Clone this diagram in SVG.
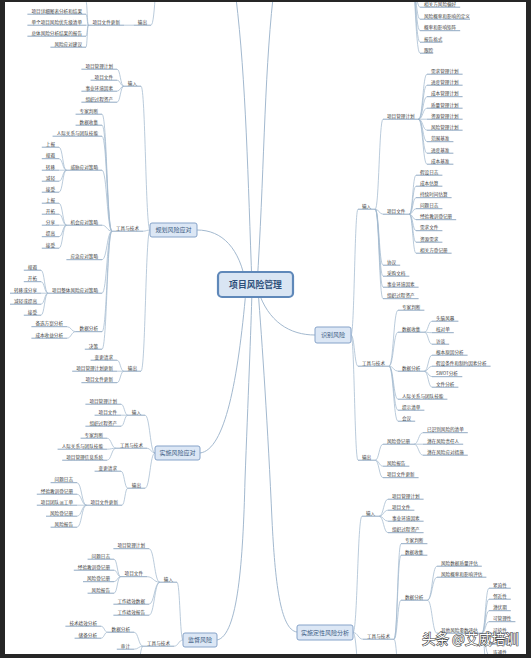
<svg xmlns="http://www.w3.org/2000/svg" width="531" height="658" viewBox="0 0 531 658">
<style>
.t{font-family:"Noto Sans CJK SC","Noto Sans",sans-serif;font-size:4.6px;fill:#404040}
.e{text-anchor:end}
.u{fill:none;stroke:#7392b2;stroke-width:.8}
.c{fill:none;stroke:#a3b9cf;stroke-width:.75}
.m{fill:none;stroke:#a3b9cf;stroke-width:1}
.b{fill:#dce7f5;stroke:#86a3c9;stroke-width:1}
.bt{font-family:"Noto Sans CJK SC","Noto Sans",sans-serif;font-size:6px;fill:#3b5b82;text-anchor:middle}
.ctr{fill:#d9e5f3;stroke:#5f88b9;stroke-width:2.2}
.ct{font-family:"Noto Sans CJK SC","Noto Sans",sans-serif;font-size:8.8px;font-weight:700;fill:#2d4f7a;text-anchor:middle}
.wm{font-family:"Noto Sans CJK SC",sans-serif;font-size:13.5px;fill:#fff;stroke:#3a3a3a;stroke-width:1.1;paint-order:stroke}
</style>
<rect width="531" height="658" fill="#fff"/>
<g id="connectors">
<path class="m" d="M252 285C248 180 246 80 236 -2"/>
<path class="m" d="M257 285C264 180 264 80 273 -2"/>
<path class="m" d="M197 230C222 230 240 248 246 285"/>
<path class="m" d="M258 290C268 322 290 335 315 335"/>
<path class="m" d="M200 453C225 450 238 380 246 290"/>
<path class="m" d="M217 640C238 636 243 560 245 480C248 400 251 330 252 290"/>
<path class="m" d="M297 632C280 630 275 580 272 520C268 430 262 340 258 290"/>
<path class="c" d="M351 335C354.5 335 354.5 209.2 358 209.2M351 335C354.5 335 354.5 366.2 358 366.2M351 335C354.5 335 354.5 460.2 358 460.2"/>
<path class="c" d="M375.2 209.2C379.1 209.2 379.1 119.2 383 119.2M375.2 209.2C379.1 209.2 379.1 214.2 383 214.2M375.2 209.2C379.1 209.2 379.1 265.2 383 265.2M375.2 209.2C379.1 209.2 379.1 276.2 383 276.2M375.2 209.2C379.1 209.2 379.1 287.2 383 287.2M375.2 209.2C379.1 209.2 379.1 298.7 383 298.7"/>
<path class="c" d="M418.6 119.2C422.8 119.2 422.8 74.2 427 74.2M418.6 119.2C422.8 119.2 422.8 85.2 427 85.2M418.6 119.2C422.8 119.2 422.8 96.7 427 96.7M418.6 119.2C422.8 119.2 422.8 108.2 427 108.2M418.6 119.2H427M418.6 119.2C422.8 119.2 422.8 130.2 427 130.2M418.6 119.2C422.8 119.2 422.8 141.7 427 141.7M418.6 119.2C422.8 119.2 422.8 153.2 427 153.2M418.6 119.2C422.8 119.2 422.8 164.2 427 164.2"/>
<path class="c" d="M409.4 214.2C412.7 214.2 412.7 175.2 416 175.2M409.4 214.2C412.7 214.2 412.7 186.2 416 186.2M409.4 214.2C412.7 214.2 412.7 197.7 416 197.7M409.4 214.2C412.7 214.2 412.7 208.7 416 208.7M409.4 214.2C412.7 214.2 412.7 219.7 416 219.7M409.4 214.2C412.7 214.2 412.7 230.7 416 230.7M409.4 214.2C412.7 214.2 412.7 242.2 416 242.2M409.4 214.2C412.7 214.2 412.7 253.2 416 253.2"/>
<path class="c" d="M389 366.2C393.5 366.2 393.5 310.2 398 310.2M389 366.2C393.5 366.2 393.5 332.2 398 332.2M389 366.2C393.5 366.2 393.5 371.2 398 371.2M389 366.2C393.5 366.2 393.5 399.2 398 399.2M389 366.2C393.5 366.2 393.5 410.2 398 410.2M389 366.2C393.5 366.2 393.5 421.2 398 421.2"/>
<path class="c" d="M424.4 332.2C428.2 332.2 428.2 321.2 432 321.2M424.4 332.2C428.2 332.2 428.2 332.7 432 332.7M424.4 332.2C428.2 332.2 428.2 344.2 432 344.2"/>
<path class="c" d="M424.4 371.2C428.2 371.2 428.2 355.2 432 355.2M424.4 371.2C428.2 371.2 428.2 366.2 432 366.2M424.4 371.2C428.2 371.2 428.2 376.7 432 376.7M424.4 371.2C428.2 371.2 428.2 387.2 432 387.2"/>
<path class="c" d="M375.2 460.2C379.1 460.2 379.1 444.2 383 444.2M375.2 460.2C379.1 460.2 379.1 466.2 383 466.2M375.2 460.2C379.1 460.2 379.1 477.7 383 477.7"/>
<path class="c" d="M414 444.2C418.5 444.2 418.5 432.7 423 432.7M414 444.2H423M414 444.2C418.5 444.2 418.5 455.2 423 455.2"/>
<path class="c" d="M353 632.5C357.5 632.5 357.5 516.2 362 516.2M353 632.5C358 632.5 358 639.2 363 639.2M353 632.5C357.5 632.5 357.5 700 362 700"/>
<path class="c" d="M379.2 516.2C383.6 516.2 383.6 499.2 388 499.2M379.2 516.2C383.6 516.2 383.6 510.2 388 510.2M379.2 516.2C383.6 516.2 383.6 521.2 388 521.2M379.2 516.2C383.6 516.2 383.6 532.7 388 532.7"/>
<path class="c" d="M394 639.2C397.5 639.2 397.5 543.7 401 543.7M394 639.2C397.5 639.2 397.5 555.2 401 555.2M394 639.2C397.5 639.2 397.5 600.2 401 600.2M394 639.2C397.5 639.2 397.5 700 401 700"/>
<path class="c" d="M427.4 600.2C432.2 600.2 432.2 566.2 437 566.2M427.4 600.2C432.2 600.2 432.2 577.2 437 577.2M427.4 600.2C432.2 600.2 432.2 633.2 437 633.2"/>
<path class="c" d="M481.8 633.2C485.4 633.2 485.4 588.2 489 588.2M481.8 633.2C485.4 633.2 485.4 599.2 489 599.2M481.8 633.2C485.4 633.2 485.4 610.7 489 610.7M481.8 633.2C485.4 633.2 485.4 621.7 489 621.7M481.8 633.2H489M481.8 633.2C485.4 633.2 485.4 644.2 489 644.2M481.8 633.2C485.4 633.2 485.4 655.2 489 655.2M481.8 633.2C485.4 633.2 485.4 700 489 700"/>
<path class="c" d="M150 230C145.5 230 145.5 86.2 141 86.2M150 230C146.5 230 146.5 231.2 143 231.2M150 230C145.5 230 145.5 371.2 141 371.2"/>
<path class="c" d="M123.8 86.2C120.4 86.2 120.4 69.2 117 69.2M123.8 86.2C120.4 86.2 120.4 80.2 117 80.2M123.8 86.2C120.4 86.2 120.4 91.2 117 91.2M123.8 86.2C120.4 86.2 120.4 102.2 117 102.2"/>
<path class="c" d="M112 231.2C107 231.2 107 114.2 102 114.2M112 231.2C107 231.2 107 125.2 102 125.2M112 231.2C107 231.2 107 136.2 102 136.2M112 231.2C107 231.2 107 170.2 102 170.2M112 231.2C107 231.2 107 225.2 102 225.2M112 231.2C107 231.2 107 259.7 102 259.7M112 231.2C107 231.2 107 293.2 102 293.2M112 231.2C107 231.2 107 331.7 102 331.7M112 231.2C107 231.2 107 349.2 102 349.2"/>
<path class="c" d="M66.4 170.2C62.7 170.2 62.7 147.2 59 147.2M66.4 170.2C62.7 170.2 62.7 158.7 59 158.7M66.4 170.2H59M66.4 170.2C62.7 170.2 62.7 181.2 59 181.2M66.4 170.2C62.7 170.2 62.7 192.2 59 192.2"/>
<path class="c" d="M66.4 225.2C62.7 225.2 62.7 203.2 59 203.2M66.4 225.2C62.7 225.2 62.7 214.2 59 214.2M66.4 225.2H59M66.4 225.2C62.7 225.2 62.7 236.7 59 236.7M66.4 225.2C62.7 225.2 62.7 248.2 59 248.2"/>
<path class="c" d="M48 293.2C44.5 293.2 44.5 270.2 41 270.2M48 293.2C44.5 293.2 44.5 281.7 41 281.7M48 293.2H41M48 293.2C44.5 293.2 44.5 304.2 41 304.2M48 293.2C44.5 293.2 44.5 315.2 41 315.2"/>
<path class="c" d="M75.6 331.7C71.3 331.7 71.3 326.7 67 326.7M75.6 331.7C71.3 331.7 71.3 338.2 67 338.2"/>
<path class="c" d="M123.8 371.2C120.4 371.2 120.4 360.2 117 360.2M123.8 371.2H117M123.8 371.2C120.4 371.2 120.4 382.7 117 382.7"/>
<path class="c" d="M155 453C150 453 150 415.2 145 415.2M155 453C151 453 151 448.2 147 448.2M155 453C150 453 150 488.2 145 488.2"/>
<path class="c" d="M127.8 415.2C124.4 415.2 124.4 404.2 121 404.2M127.8 415.2H121M127.8 415.2C124.4 415.2 124.4 426.2 121 426.2"/>
<path class="c" d="M116 448.2C111.5 448.2 111.5 438.2 107 438.2M116 448.2C111.5 448.2 111.5 449.2 107 449.2M116 448.2C111.5 448.2 111.5 460.2 107 460.2"/>
<path class="c" d="M127.8 488.2C124.4 488.2 124.4 471.2 121 471.2M127.8 488.2C124.9 488.2 124.9 505.2 122 505.2"/>
<path class="c" d="M86.4 505.2C81.7 505.2 81.7 482.7 77 482.7M86.4 505.2C81.7 505.2 81.7 494.2 77 494.2M86.4 505.2H77M86.4 505.2C81.7 505.2 81.7 516.2 77 516.2M86.4 505.2C81.7 505.2 81.7 527.2 77 527.2"/>
<path class="c" d="M183 640C180 640 180 582.2 177 582.2M183 640C178.5 640 178.5 646.2 174 646.2"/>
<path class="c" d="M159.8 582.2C154.4 582.2 154.4 548.7 149 548.7M159.8 582.2C153.4 582.2 153.4 576.7 147 576.7M159.8 582.2C154.4 582.2 154.4 604.2 149 604.2M159.8 582.2C154.4 582.2 154.4 615.2 149 615.2"/>
<path class="c" d="M120.6 576.7C117.3 576.7 117.3 559.2 114 559.2M120.6 576.7C117.3 576.7 117.3 570.2 114 570.2M120.6 576.7C117.3 576.7 117.3 581.7 114 581.7M120.6 576.7C117.3 576.7 117.3 593.2 114 593.2"/>
<path class="c" d="M143 646.2C138.5 646.2 138.5 632.2 134 632.2M143 646.2C138.5 646.2 138.5 649.2 134 649.2M143 646.2C138.5 646.2 138.5 700 134 700"/>
<path class="c" d="M107.6 632.2C104.3 632.2 104.3 626.2 101 626.2M107.6 632.2C104.3 632.2 104.3 638.2 101 638.2"/>
<path class="c" d="M160 -40C155.5 -40 155.5 25.2 151 25.2M133.8 25.2H124"/>
<path class="c" d="M88.4 25.2C87.2 25.2 87.2 1.5 86 1.5M88.4 25.2C87.2 25.2 87.2 14.2 86 14.2M88.4 25.2H86M88.4 25.2C87.2 25.2 87.2 36.2 86 36.2M88.4 25.2C87.2 25.2 87.2 47.2 86 47.2"/>
<path class="u" d="M24 1.5H86"/>
<path class="c" d="M410 -40C415 -40 415 7.2 420 7.2M410 -40C415 -40 415 19.2 420 19.2M410 -40C415 -40 415 30.7 420 30.7M410 -40C415 -40 415 42.2 420 42.2M410 -40C415 -40 415 53.2 420 53.2"/>
</g>
<g id="tl-out"><text class="t e" x="147" y="23.6">输出</text><path class="u" d="M133.8 25.2H151"/></g>
<g id="tl-upd"><text class="t e" x="120" y="23.6">项目文件更新</text><path class="u" d="M88.4 25.2H124"/></g>
<g id="tl-1"><text class="t e" x="82" y="12.6">项目详细图表分析和结果</text><path class="u" d="M27.4 14.2H86"/></g>
<g id="tl-2"><text class="t e" x="82" y="23.6">单个项目风险优先级清单</text><path class="u" d="M27.4 25.2H86"/></g>
<g id="tl-3"><text class="t e" x="82" y="34.6">总体风险分析结果的报告</text><path class="u" d="M27.4 36.2H86"/></g>
<g id="tl-4"><text class="t e" x="82" y="45.6">风险应对建议</text><path class="u" d="M50.4 47.2H86"/></g>
<g id="tr-1"><text class="t" x="424" y="5.6">相关方风险偏好</text><path class="u" d="M420 7.2H460.2"/></g>
<g id="tr-2"><text class="t" x="424" y="17.6">风险概率和影响的定义</text><path class="u" d="M420 19.2H470"/></g>
<g id="tr-3"><text class="t" x="424" y="29.1">概率和影响矩阵</text><path class="u" d="M420 30.7H460.2"/></g>
<g id="tr-4"><text class="t" x="424" y="40.6">报告格式</text><path class="u" d="M420 42.2H442.4"/></g>
<g id="tr-5"><text class="t" x="424" y="51.6">跟踪</text><path class="u" d="M420 53.2H433.2"/></g>
<g id="r-in"><text class="t" x="362" y="207.6">输入</text><path class="u" d="M358 209.2H375.2"/></g>
<g id="r-tt"><text class="t" x="362" y="364.6">工具与技术</text><path class="u" d="M358 366.2H389"/></g>
<g id="r-out"><text class="t" x="362" y="458.6">输出</text><path class="u" d="M358 460.2H375.2"/></g>
<g id="r-in-pmp"><text class="t" x="387" y="117.6">项目管理计划</text><path class="u" d="M383 119.2H418.6"/></g>
<g id="r-in-doc"><text class="t" x="387" y="212.6">项目文件</text><path class="u" d="M383 214.2H409.4"/></g>
<g id="r-in-agr"><text class="t" x="387" y="263.6">协议</text><path class="u" d="M383 265.2H400.2"/></g>
<g id="r-in-proc"><text class="t" x="387" y="274.6">采购文档</text><path class="u" d="M383 276.2H409.4"/></g>
<g id="r-in-eef"><text class="t" x="387" y="285.6">事业环境因素</text><path class="u" d="M383 287.2H418.6"/></g>
<g id="r-in-opa"><text class="t" x="387" y="297.1">组织过程资产</text><path class="u" d="M383 298.7H418.6"/></g>
<g id="r-p1"><text class="t" x="431" y="72.6">需求管理计划</text><path class="u" d="M427 74.2H462.6"/></g>
<g id="r-p2"><text class="t" x="431" y="83.6">进度管理计划</text><path class="u" d="M427 85.2H462.6"/></g>
<g id="r-p3"><text class="t" x="431" y="95.1">成本管理计划</text><path class="u" d="M427 96.7H462.6"/></g>
<g id="r-p4"><text class="t" x="431" y="106.6">质量管理计划</text><path class="u" d="M427 108.2H462.6"/></g>
<g id="r-p5"><text class="t" x="431" y="117.6">资源管理计划</text><path class="u" d="M427 119.2H462.6"/></g>
<g id="r-p6"><text class="t" x="431" y="128.6">风险管理计划</text><path class="u" d="M427 130.2H462.6"/></g>
<g id="r-p7"><text class="t" x="431" y="140.1">范围基准</text><path class="u" d="M427 141.7H453.4"/></g>
<g id="r-p8"><text class="t" x="431" y="151.6">进度基准</text><path class="u" d="M427 153.2H453.4"/></g>
<g id="r-p9"><text class="t" x="431" y="162.6">成本基准</text><path class="u" d="M427 164.2H453.4"/></g>
<g id="r-d1"><text class="t" x="420" y="173.6">假设日志</text><path class="u" d="M416 175.2H442.4"/></g>
<g id="r-d2"><text class="t" x="420" y="184.6">成本估算</text><path class="u" d="M416 186.2H442.4"/></g>
<g id="r-d3"><text class="t" x="420" y="196.1">持续时间估算</text><path class="u" d="M416 197.7H451.6"/></g>
<g id="r-d4"><text class="t" x="420" y="207.1">问题日志</text><path class="u" d="M416 208.7H442.4"/></g>
<g id="r-d5"><text class="t" x="420" y="218.1">经验教训登记册</text><path class="u" d="M416 219.7H456.2"/></g>
<g id="r-d6"><text class="t" x="420" y="229.1">需求文件</text><path class="u" d="M416 230.7H442.4"/></g>
<g id="r-d7"><text class="t" x="420" y="240.6">资源需求</text><path class="u" d="M416 242.2H442.4"/></g>
<g id="r-d8"><text class="t" x="420" y="251.6">相关方登记册</text><path class="u" d="M416 253.2H451.6"/></g>
<g id="r-t1"><text class="t" x="402" y="308.6">专家判断</text><path class="u" d="M398 310.2H424.4"/></g>
<g id="r-t2"><text class="t" x="402" y="330.6">数据收集</text><path class="u" d="M398 332.2H424.4"/></g>
<g id="r-t3"><text class="t" x="402" y="369.6">数据分析</text><path class="u" d="M398 371.2H424.4"/></g>
<g id="r-t4"><text class="t" x="402" y="397.6">人际关系与团队技能</text><path class="u" d="M398 399.2H447.4"/></g>
<g id="r-t5"><text class="t" x="402" y="408.6">提示清单</text><path class="u" d="M398 410.2H424.4"/></g>
<g id="r-t6"><text class="t" x="402" y="419.6">会议</text><path class="u" d="M398 421.2H415.2"/></g>
<g id="r-c1"><text class="t" x="436" y="319.6">头脑风暴</text><path class="u" d="M432 321.2H458.4"/></g>
<g id="r-c2"><text class="t" x="436" y="331.1">核对单</text><path class="u" d="M432 332.7H453.8"/></g>
<g id="r-c3"><text class="t" x="436" y="342.6">访谈</text><path class="u" d="M432 344.2H449.2"/></g>
<g id="r-a1"><text class="t" x="436" y="353.6">根本原因分析</text><path class="u" d="M432 355.2H467.6"/></g>
<g id="r-a2"><text class="t" x="436" y="364.6">假设条件和制约因素分析</text><path class="u" d="M432 366.2H490.6"/></g>
<g id="r-a3"><text class="t" x="436" y="375.1">SWOT分析</text><path class="u" d="M432 376.7H462.3"/></g>
<g id="r-a4"><text class="t" x="436" y="385.6">文件分析</text><path class="u" d="M432 387.2H458.4"/></g>
<g id="r-o1"><text class="t" x="387" y="442.6">风险登记册</text><path class="u" d="M383 444.2H414"/></g>
<g id="r-o2"><text class="t" x="387" y="464.6">风险报告</text><path class="u" d="M383 466.2H409.4"/></g>
<g id="r-o3"><text class="t" x="387" y="476.1">项目文件更新</text><path class="u" d="M383 477.7H418.6"/></g>
<g id="r-g1"><text class="t" x="427" y="431.1">已识别风险的清单</text><path class="u" d="M423 432.7H467.8"/></g>
<g id="r-g2"><text class="t" x="427" y="442.6">潜在风险责任人</text><path class="u" d="M423 444.2H463.2"/></g>
<g id="r-g3"><text class="t" x="427" y="453.6">潜在风险应对措施</text><path class="u" d="M423 455.2H467.8"/></g>
<g id="q-in"><text class="t" x="366" y="514.6">输入</text><path class="u" d="M362 516.2H379.2"/></g>
<g id="q-tt"><text class="t" x="367" y="637.6">工具与技术</text><path class="u" d="M363 639.2H394"/></g>
<g id="q-i1"><text class="t" x="392" y="497.6">项目管理计划</text><path class="u" d="M388 499.2H423.6"/></g>
<g id="q-i2"><text class="t" x="392" y="508.6">项目文件</text><path class="u" d="M388 510.2H414.4"/></g>
<g id="q-i3"><text class="t" x="392" y="519.6">事业环境因素</text><path class="u" d="M388 521.2H423.6"/></g>
<g id="q-i4"><text class="t" x="392" y="531.1">组织过程资产</text><path class="u" d="M388 532.7H423.6"/></g>
<g id="q-t1"><text class="t" x="405" y="542.1">专家判断</text><path class="u" d="M401 543.7H427.4"/></g>
<g id="q-t2"><text class="t" x="405" y="553.6">数据收集</text><path class="u" d="M401 555.2H427.4"/></g>
<g id="q-t3"><text class="t" x="405" y="598.6">数据分析</text><path class="u" d="M401 600.2H427.4"/></g>
<g id="q-a1"><text class="t" x="441" y="564.6">风险数据质量评估</text><path class="u" d="M437 566.2H481.8"/></g>
<g id="q-a2"><text class="t" x="441" y="575.6">风险概率和影响评估</text><path class="u" d="M437 577.2H486.4"/></g>
<g id="q-a3"><text class="t" x="441" y="631.6">其他风险参数评估</text><path class="u" d="M437 633.2H481.8"/></g>
<g id="q-p1"><text class="t" x="493" y="586.6">紧迫性</text><path class="u" d="M489 588.2H510.8"/></g>
<g id="q-p2"><text class="t" x="493" y="597.6">邻近性</text><path class="u" d="M489 599.2H510.8"/></g>
<g id="q-p3"><text class="t" x="493" y="609.1">潜伏期</text><path class="u" d="M489 610.7H510.8"/></g>
<g id="q-p4"><text class="t" x="493" y="620.1">可管理性</text><path class="u" d="M489 621.7H515.4"/></g>
<g id="q-p5"><text class="t" x="493" y="631.6">可控性</text><path class="u" d="M489 633.2H510.8"/></g>
<g id="q-p6"><text class="t" x="493" y="642.6">可监测性</text><path class="u" d="M489 644.2H515.4"/></g>
<g id="q-p7"><text class="t" x="493" y="653.6">连通性</text><path class="u" d="M489 655.2H510.8"/></g>
<g id="p-in"><text class="t e" x="137" y="84.6">输入</text><path class="u" d="M123.8 86.2H141"/></g>
<g id="p-tt"><text class="t e" x="139" y="229.6">工具与技术</text><path class="u" d="M112 231.2H143"/></g>
<g id="p-out"><text class="t e" x="137" y="369.6">输出</text><path class="u" d="M123.8 371.2H141"/></g>
<g id="p-i1"><text class="t e" x="113" y="67.6">项目管理计划</text><path class="u" d="M81.4 69.2H117"/></g>
<g id="p-i2"><text class="t e" x="113" y="78.6">项目文件</text><path class="u" d="M90.6 80.2H117"/></g>
<g id="p-i3"><text class="t e" x="113" y="89.6">事业环境因素</text><path class="u" d="M81.4 91.2H117"/></g>
<g id="p-i4"><text class="t e" x="113" y="100.6">组织过程资产</text><path class="u" d="M81.4 102.2H117"/></g>
<g id="p-t1"><text class="t e" x="98" y="112.6">专家判断</text><path class="u" d="M75.6 114.2H102"/></g>
<g id="p-t2"><text class="t e" x="98" y="123.6">数据收集</text><path class="u" d="M75.6 125.2H102"/></g>
<g id="p-t3"><text class="t e" x="98" y="134.6">人际关系与团队技能</text><path class="u" d="M52.6 136.2H102"/></g>
<g id="p-t4"><text class="t e" x="98" y="168.6">威胁应对策略</text><path class="u" d="M66.4 170.2H102"/></g>
<g id="p-t5"><text class="t e" x="98" y="223.6">机会应对策略</text><path class="u" d="M66.4 225.2H102"/></g>
<g id="p-t6"><text class="t e" x="98" y="258.1">应急应对策略</text><path class="u" d="M66.4 259.7H102"/></g>
<g id="p-t7"><text class="t e" x="98" y="291.6">项目整体风险应对策略</text><path class="u" d="M48 293.2H102"/></g>
<g id="p-t8"><text class="t e" x="98" y="330.1">数据分析</text><path class="u" d="M75.6 331.7H102"/></g>
<g id="p-t9"><text class="t e" x="98" y="347.6">决策</text><path class="u" d="M84.8 349.2H102"/></g>
<g id="p-w1"><text class="t e" x="55" y="145.6">上报</text><path class="u" d="M41.8 147.2H59"/></g>
<g id="p-w2"><text class="t e" x="55" y="157.1">规避</text><path class="u" d="M41.8 158.7H59"/></g>
<g id="p-w3"><text class="t e" x="55" y="168.6">转移</text><path class="u" d="M41.8 170.2H59"/></g>
<g id="p-w4"><text class="t e" x="55" y="179.6">减轻</text><path class="u" d="M41.8 181.2H59"/></g>
<g id="p-w5"><text class="t e" x="55" y="190.6">接受</text><path class="u" d="M41.8 192.2H59"/></g>
<g id="p-k1"><text class="t e" x="55" y="201.6">上报</text><path class="u" d="M41.8 203.2H59"/></g>
<g id="p-k2"><text class="t e" x="55" y="212.6">开拓</text><path class="u" d="M41.8 214.2H59"/></g>
<g id="p-k3"><text class="t e" x="55" y="223.6">分享</text><path class="u" d="M41.8 225.2H59"/></g>
<g id="p-k4"><text class="t e" x="55" y="235.1">提高</text><path class="u" d="M41.8 236.7H59"/></g>
<g id="p-k5"><text class="t e" x="55" y="246.6">接受</text><path class="u" d="M41.8 248.2H59"/></g>
<g id="p-z1"><text class="t e" x="37" y="268.6">规避</text><path class="u" d="M23.8 270.2H41"/></g>
<g id="p-z2"><text class="t e" x="37" y="280.1">开拓</text><path class="u" d="M23.8 281.7H41"/></g>
<g id="p-z3"><text class="t e" x="37" y="291.6">转移或分享</text><path class="u" d="M10 293.2H41"/></g>
<g id="p-z4"><text class="t e" x="37" y="302.6">减轻或提高</text><path class="u" d="M10 304.2H41"/></g>
<g id="p-z5"><text class="t e" x="37" y="313.6">接受</text><path class="u" d="M23.8 315.2H41"/></g>
<g id="p-a1"><text class="t e" x="63" y="325.1">备选方案分析</text><path class="u" d="M31.4 326.7H67"/></g>
<g id="p-a2"><text class="t e" x="63" y="336.6">成本收益分析</text><path class="u" d="M31.4 338.2H67"/></g>
<g id="p-o1"><text class="t e" x="113" y="358.6">变更请求</text><path class="u" d="M90.6 360.2H117"/></g>
<g id="p-o2"><text class="t e" x="113" y="369.6">项目管理计划更新</text><path class="u" d="M72.2 371.2H117"/></g>
<g id="p-o3"><text class="t e" x="113" y="381.1">项目文件更新</text><path class="u" d="M81.4 382.7H117"/></g>
<g id="i-in"><text class="t e" x="141" y="413.6">输入</text><path class="u" d="M127.8 415.2H145"/></g>
<g id="i-tt"><text class="t e" x="143" y="446.6">工具与技术</text><path class="u" d="M116 448.2H147"/></g>
<g id="i-out"><text class="t e" x="141" y="486.6">输出</text><path class="u" d="M127.8 488.2H145"/></g>
<g id="i-i1"><text class="t e" x="117" y="402.6">项目管理计划</text><path class="u" d="M85.4 404.2H121"/></g>
<g id="i-i2"><text class="t e" x="117" y="413.6">项目文件</text><path class="u" d="M94.6 415.2H121"/></g>
<g id="i-i3"><text class="t e" x="117" y="424.6">组织过程资产</text><path class="u" d="M85.4 426.2H121"/></g>
<g id="i-t1"><text class="t e" x="103" y="436.6">专家判断</text><path class="u" d="M80.6 438.2H107"/></g>
<g id="i-t2"><text class="t e" x="103" y="447.6">人际关系与团队技能</text><path class="u" d="M57.6 449.2H107"/></g>
<g id="i-t3"><text class="t e" x="103" y="458.6">项目管理信息系统</text><path class="u" d="M62.2 460.2H107"/></g>
<g id="i-o1"><text class="t e" x="117" y="469.6">变更请求</text><path class="u" d="M94.6 471.2H121"/></g>
<g id="i-o2"><text class="t e" x="118" y="503.6">项目文件更新</text><path class="u" d="M86.4 505.2H122"/></g>
<g id="i-u1"><text class="t e" x="73" y="481.1">问题日志</text><path class="u" d="M50.6 482.7H77"/></g>
<g id="i-u2"><text class="t e" x="73" y="492.6">经验教训登记册</text><path class="u" d="M36.8 494.2H77"/></g>
<g id="i-u3"><text class="t e" x="73" y="503.6">项目团队派工单</text><path class="u" d="M36.8 505.2H77"/></g>
<g id="i-u4"><text class="t e" x="73" y="514.6">风险登记册</text><path class="u" d="M46 516.2H77"/></g>
<g id="i-u5"><text class="t e" x="73" y="525.6">风险报告</text><path class="u" d="M50.6 527.2H77"/></g>
<g id="m-in"><text class="t e" x="173" y="580.6">输入</text><path class="u" d="M159.8 582.2H177"/></g>
<g id="m-tt"><text class="t e" x="170" y="644.6">工具与技术</text><path class="u" d="M143 646.2H174"/></g>
<g id="m-i1"><text class="t e" x="145" y="547.1">项目管理计划</text><path class="u" d="M113.4 548.7H149"/></g>
<g id="m-i2"><text class="t e" x="143" y="575.1">项目文件</text><path class="u" d="M120.6 576.7H147"/></g>
<g id="m-i3"><text class="t e" x="145" y="602.6">工作绩效数据</text><path class="u" d="M113.4 604.2H149"/></g>
<g id="m-i4"><text class="t e" x="145" y="613.6">工作绩效报告</text><path class="u" d="M113.4 615.2H149"/></g>
<g id="m-d1"><text class="t e" x="110" y="557.6">问题日志</text><path class="u" d="M87.6 559.2H114"/></g>
<g id="m-d2"><text class="t e" x="110" y="568.6">经验教训登记册</text><path class="u" d="M73.8 570.2H114"/></g>
<g id="m-d3"><text class="t e" x="110" y="580.1">风险登记册</text><path class="u" d="M83 581.7H114"/></g>
<g id="m-d4"><text class="t e" x="110" y="591.6">风险报告</text><path class="u" d="M87.6 593.2H114"/></g>
<g id="m-t1"><text class="t e" x="130" y="630.6">数据分析</text><path class="u" d="M107.6 632.2H134"/></g>
<g id="m-t2"><text class="t e" x="130" y="647.6">审计</text><path class="u" d="M116.8 649.2H134"/></g>
<g id="m-a1"><text class="t e" x="97" y="624.6">技术绩效分析</text><path class="u" d="M65.4 626.2H101"/></g>
<g id="m-a2"><text class="t e" x="97" y="636.6">储备分析</text><path class="u" d="M74.6 638.2H101"/></g>
<g id="plan-response"><rect class="b" x="150" y="223" width="47" height="14" rx="2"/><text class="bt" x="173.5" y="232.2">规划风险应对</text></g>
<g id="identify"><rect class="b" x="315" y="327" width="36" height="16" rx="2"/><text class="bt" x="333" y="337.2">识别风险</text></g>
<g id="implement"><rect class="b" x="155" y="446" width="45" height="14" rx="2"/><text class="bt" x="177.5" y="455.2">实施风险应对</text></g>
<g id="monitor"><rect class="b" x="183" y="633" width="34" height="14" rx="2"/><text class="bt" x="200" y="642.2">监督风险</text></g>
<g id="qualitative"><rect class="b" x="297" y="625" width="56" height="15" rx="2"/><text class="bt" x="325" y="634.7">实施定性风险分析</text></g>
<g id="center"><rect class="ctr" x="218" y="272" width="75" height="25" rx="4"/><text class="ct" x="255.5" y="287.6">项目风险管理</text></g>
<text class="wm" x="422" y="644">头条 @艾威培训</text>
<path fill="#262626" fill-rule="evenodd" d="M0 0H531V658H0ZM5 2V654H526V2Z"/>
</svg>
